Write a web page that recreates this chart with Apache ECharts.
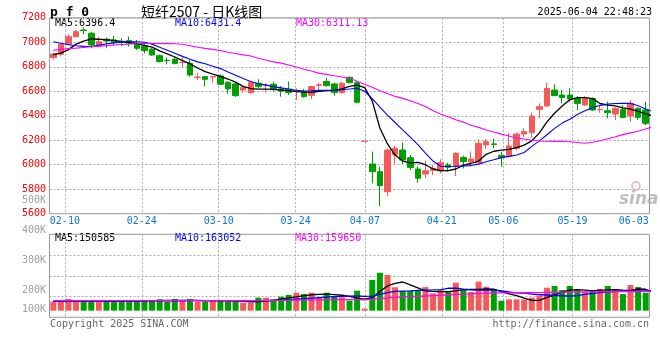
<!DOCTYPE html>
<html><head><meta charset="utf-8">
<script src="https://cdn.jsdelivr.net/npm/echarts@6/dist/echarts.min.js"></script>
<style>html,body{margin:0;padding:0;background:#fff}#c{width:660px;height:360px}</style>
</head><body><div id="c"></div>
<script>
// ---- data ----
const dates = ['02-06','02-07','02-10','02-11','02-12','02-13','02-14','02-17','02-18','02-19','02-20','02-21','02-24','02-25','02-26','02-27','02-28',
'03-03','03-04','03-05','03-06','03-07','03-10','03-11','03-12','03-13','03-14','03-17','03-18','03-19','03-20','03-21','03-24','03-25','03-26','03-27','03-28','03-31',
'04-01','04-02','04-03','04-07','04-08','04-09','04-10','04-11','04-14','04-15','04-16','04-17','04-18','04-21','04-22','04-23','04-24','04-25','04-28','04-29','04-30',
'05-06','05-07','05-08','05-09','05-12','05-13','05-14','05-15','05-16','05-19','05-20','05-21','05-22','05-23','05-26','05-27','05-28','05-29','06-03','06-04'];
const opens = [6875,6902,6984,7046,7100,7074,6970,7025,7019,7008,7014,6984,6970,6943,6891,6852,6861,6834,6828,6712,
6719,6716,6725,6673,6660,6610,6589,6665,6649,6657,6619,6616,6600,6597,6567,6649,6679,6660,6589,6714,
6670,6190,6006,5943,5780,6080,6120,6057,5965,5924,5954,5949,5998,5984,6060,6022,6017,6161,6170,6075,
6068,6134,6251,6262,6452,6480,6610,6569,6569,6542,6488,6542,6450,6441,6414,6452,6398,6460,6447,6406];
const closes = [6905,6984,7046,7087,7096,6978,7005,7011,7000,7000,6992,6951,6932,6896,6842,6850,6826,6836,6733,6716,
6698,6720,6657,6619,6564,6632,6673,6638,6651,6616,6602,6589,6605,6556,6638,6654,6646,6589,6665,6670,
6510,6192,5943,5829,6120,6134,6038,5976,5889,5951,5970,6017,5979,6093,6025,6047,6175,6188,6166,6060,
6153,6251,6270,6398,6474,6624,6564,6548,6537,6501,6542,6447,6452,6425,6460,6387,6501,6387,6338,6371];
const lows = [6860,6890,6980,7038,7065,6951,6960,6951,6978,6970,6965,6937,6910,6890,6836,6820,6820,6793,6719,6690,
6638,6670,6651,6580,6553,6589,6578,6624,6589,6597,6556,6570,6529,6548,6537,6610,6638,6564,6580,6665,
6502,6190,5848,5663,5744,6003,6006,5954,5853,5889,5916,5930,5943,5908,5970,5992,6011,6128,6134,5984,
6060,6120,6224,6224,6379,6474,6564,6501,6515,6447,6480,6441,6425,6379,6365,6379,6351,6365,6324,6365];
const highs = [6915,6990,7065,7101,7120,7087,7046,7038,7054,7033,7046,7019,6992,6955,6900,6877,6883,6875,6855,6752,
6725,6727,6738,6684,6670,6646,6684,6698,6665,6679,6643,6679,6624,6619,6646,6665,6711,6670,6676,6720,
6684,6192,6107,5984,6134,6153,6180,6079,5984,6033,5998,6044,6017,6101,6074,6107,6210,6210,6215,6106,
6256,6265,6297,6425,6501,6670,6657,6610,6624,6561,6561,6550,6488,6515,6469,6488,6529,6469,6515,6425];
const ma5 = [6900,6912,6940,6985,7010,7027,7025,7020,7015,7005,6998,6990,6975,6960,6930,6905,6880,6850,6825,6790,
6760,6740,6722,6700,6675,6640,6622,6618,6618,6615,6610,6605,6597,6593,6591,6600,6605,6608,6620,6640,
6650,6630,6520,6300,6170,6079,6030,6015,6020,6000,5965,5952,5952,5965,5997,6010,6030,6085,6110,6120,
6125,6140,6160,6195,6260,6350,6420,6480,6530,6548,6548,6540,6500,6486,6480,6465,6455,6435,6415,6396.4];
const ma10 = [7005,6992,6980,6972,6967,6965,6975,6988,6995,7003,7005,7005,7000,6985,6960,6935,6910,6885,6862,6840,
6825,6805,6785,6757,6730,6705,6680,6662,6650,6638,6628,6618,6608,6602,6603,6607,6608,6608,6612,6618,
6625,6600,6540,6470,6405,6345,6285,6225,6165,6095,6030,5988,5985,5987,5990,5993,6005,6024,6040,6058,
6068,6080,6100,6150,6195,6245,6297,6340,6372,6410,6440,6465,6485,6495,6500,6501,6501,6482,6455,6431.4];
const ma30 = [6935,6942,6948,6952,6958,6963,6968,6973,6978,6982,6986,6988,6990,6990,6990,6989,6988,6984,6972,6960,
6950,6942,6933,6918,6908,6897,6888,6870,6855,6840,6830,6815,6798,6780,6765,6746,6738,6727,6717,6706,
6682,6655,6632,6605,6582,6558,6542,6522,6500,6475,6440,6415,6392,6368,6348,6322,6305,6283,6268,6250,
6235,6218,6210,6200,6194,6192,6191,6190,6188,6182,6176,6184,6196,6212,6228,6246,6260,6273,6292,6311.13];
// volumes in thousands
const vols = [75,75,97,80,75,75,88,75,75,83,88,88,83,83,94,75,97,83,94,75,
75,88,88,75,72,66,66,108,108,94,116,130,149,138,149,111,149,122,111,83,
166,17,255,315,296,194,163,163,163,196,144,171,158,232,171,155,241,199,171,83,
94,94,94,108,122,191,205,171,205,171,155,171,180,205,180,138,213,196,149,55];
const vma5 = [78,78,80,80,82,80,80,78,78,79,80,80,81,82,85,85,86,86,88,86,
84,84,82,82,80,78,74,76,80,86,95,106,115,125,132,136,138,134,128,118,
105,96,108,160,205,226,238,215,190,165,160,158,158,165,175,177,177,180,178,158,
140,125,105,85,85,110,130,155,170,175,170,165,170,172,175,170,168,180,178,150.585];
const vma10 = [80,80,80,80,80,80,80,80,80,80,80,80,81,81,82,82,82,82,83,83,
83,83,83,82,82,82,82,83,84,86,88,92,96,100,104,108,112,116,118,120,
122,118,120,135,150,160,163,165,168,170,172,175,186,188,178,172,171,171,170,165,
155,148,145,138,132,130,128,124,122,125,135,144,150,155,160,163,164,164,164,163.052];
const vma30 = [84,84,84,84,84,84,84,84,84,84,84,84,84,84,84,84,84,84,84,84,
84,84,84,84,84,84,84,84,85,85,86,87,88,89,90,90,91,92,92,92,
92,90,96,100,106,110,113,116,119,122,125,128,132,136,138,140,143,146,148,148,
148,149,149,149,150,152,153,154,155,156,156,156,157,157,158,158,159,159,160,159.65];
const labelDates = ['02-10','02-24','03-10','03-24','04-07','04-21','05-06','05-19','06-03'];
const gridDates = ['02-10','02-24','03-10','03-24','04-07','04-21','05-06','05-19'];
const priceTicks = {min:5600, max:7200, step:200};
const volTicks = {min:100, max:500, step:100};
const legendMain = ['MA5:6396.4','MA10:6431.4','MA30:6311.13'];
const legendVol = ['MA5:150585','MA10:163052','MA30:159650'];

// ---- chart ----
const MONO = '"DejaVu Sans Mono", monospace';
const UP = '#f55a5a', DOWN = '#00a000';
const GRIDC = '#adadad';
const dotted = {color: GRIDC, type: [2, 2], width: 1};
const chart = echarts.init(document.getElementById('c'), null, {renderer: 'canvas'});

const candleData = dates.map((d, i) => [opens[i], closes[i], lows[i], highs[i]]);
const volData = vols.map((v, i) => ({value: v, itemStyle: {color: closes[i] >= opens[i] ? UP : DOWN}}));

function txt(text, x, y, color, font, align) {
  return {type: 'text', x: x, y: y, silent: true,
    style: {text: text, fill: color, font: font, align: align || 'left', verticalAlign: 'middle',
            textAlign: align || 'left', textVerticalAlign: 'middle'}};
}
const f10 = '10px ' + MONO;
const G = {left: 49.5, right: 10.5};

chart.setOption({
  animation: false,
  backgroundColor: '#fff',
  grid: [
    {left: G.left, right: G.right, top: 17.8, height: 195.9, show: true, borderColor: '#999', borderWidth: 1},
    {left: G.left, right: G.right, top: 234.3, height: 83, show: true, borderColor: '#999', borderWidth: 1},
    {left: G.left, right: G.right, top: 200.7, height: 119.2, show: false}
  ],
  xAxis: [
    {type: 'category', gridIndex: 0, position: 'bottom', data: dates, boundaryGap: true, show: false},
    {type: 'category', gridIndex: 1, position: 'bottom', data: dates, boundaryGap: true, show: false},
    {type: 'category', gridIndex: 0, position: 'bottom', data: dates, boundaryGap: false,
      axisLine: {show: false}, axisTick: {show: false},
      axisLabel: {interval: (i, v) => labelDates.indexOf(v) >= 0, color: '#0a78d0', fontFamily: MONO, fontSize: 10, margin: 3,
        formatter: v => v === labelDates[labelDates.length - 1] ? '{e|' + v + '}' : v,
        rich: {e: {padding: [0, 16, 0, 0], color: '#0a78d0', fontFamily: MONO, fontSize: 10}}},
      splitLine: {show: true, interval: (i, v) => gridDates.indexOf(v) >= 0, lineStyle: dotted}},
    {type: 'category', gridIndex: 1, position: 'bottom', data: dates, boundaryGap: false,
      axisLine: {show: false}, axisTick: {show: false}, axisLabel: {show: false},
      splitLine: {show: true, interval: (i, v) => gridDates.indexOf(v) >= 0, lineStyle: dotted}},
    {type: 'category', gridIndex: 2, position: 'bottom', data: dates, show: false}
  ],
  yAxis: [
    {type: 'value', gridIndex: 0, position: 'left', min: priceTicks.min, max: priceTicks.max, interval: priceTicks.step,
      axisLine: {show: false}, axisTick: {show: false},
      axisLabel: {color: '#ff0000', fontFamily: MONO, fontSize: 10, margin: 3.5, formatter: v => String(v)},
      splitLine: {show: true, lineStyle: dotted}},
    {type: 'value', gridIndex: 1, position: 'left', min: -55, max: 634, show: false, splitLine: {show: false}},
    {type: 'value', gridIndex: 1, position: 'left', min: 0, max: 4, interval: 1, axisLine: {show: false}, axisTick: {show: false},
      axisLabel: {show: false}, splitLine: {show: true, lineStyle: dotted}},
    {type: 'value', gridIndex: 2, position: 'left', min: volTicks.min, max: volTicks.max, interval: volTicks.step,
      axisLine: {show: false}, axisTick: {show: false}, splitLine: {show: false},
      axisLabel: {color: '#a0a0a0', fontFamily: MONO, fontSize: 10, margin: 3.5,
        formatter: v => v === volTicks.min ? '{b|' + v + 'K}' : v + 'K',
        rich: {b: {padding: [0, 0, 20, 0], color: '#a0a0a0', fontFamily: MONO, fontSize: 10}}}}
  ],
  series: [
    {type: 'candlestick', xAxisIndex: 0, yAxisIndex: 0, data: candleData, barWidth: 6,
      itemStyle: {color: UP, color0: DOWN, borderColor: UP, borderColor0: DOWN, borderWidth: 1}},
    {type: 'line', xAxisIndex: 0, yAxisIndex: 0, data: ma5, showSymbol: false, silent: true, lineStyle: {color: '#000', width: 1.3}},
    {type: 'line', xAxisIndex: 0, yAxisIndex: 0, data: ma10, showSymbol: false, silent: true, lineStyle: {color: '#0000ff', width: 1.1}},
    {type: 'line', xAxisIndex: 0, yAxisIndex: 0, data: ma30, showSymbol: false, silent: true, lineStyle: {color: '#ff00ff', width: 1.1}},
    {type: 'bar', xAxisIndex: 1, yAxisIndex: 1, data: volData, barWidth: 6},
    {type: 'line', xAxisIndex: 1, yAxisIndex: 1, data: vma5, showSymbol: false, silent: true, lineStyle: {color: '#000', width: 1.3}},
    {type: 'line', xAxisIndex: 1, yAxisIndex: 1, data: vma10, showSymbol: false, silent: true, lineStyle: {color: '#0000ff', width: 1.3}},
    {type: 'line', xAxisIndex: 1, yAxisIndex: 1, data: vma30, showSymbol: false, silent: true, lineStyle: {color: '#ff00ff', width: 1.3}}
  ],
  graphic: [
    txt('p f 0', 50, 13, '#000', 'bold 13px ' + MONO),
    txt('短纤2507 - 日K线图', 141, 12, '#000', '14px "Noto Sans CJK SC"'),
    txt('2025-06-04 22:48:23', 652, 12, '#000', f10, 'right'),
    txt(legendMain[0], 55, 23.5, '#000', f10),
    txt(legendMain[1], 175, 23.5, '#0000ff', f10),
    txt(legendMain[2], 296, 23.5, '#ff00ff', f10),
    txt(legendVol[0], 55, 238.5, '#000', f10),
    txt(legendVol[1], 175, 238.5, '#0000ff', f10),
    txt(legendVol[2], 295, 238.5, '#ff00ff', f10),
    txt('Copyright 2025 SINA.COM', 50, 324, '#666666', f10),
    txt('http://finance.sina.com.cn', 649, 324, '#666666', f10, 'right'),
    txt('sina', 619, 200, 'rgba(170,170,170,0.75)', 'italic bold 17px "DejaVu Sans"'),
    {type: 'circle', shape: {cx: 636, cy: 186, r: 4}, silent: true, style: {fill: 'none', stroke: 'rgba(235,140,140,0.7)', lineWidth: 1.5}}
  ]
});
</script></body></html>
